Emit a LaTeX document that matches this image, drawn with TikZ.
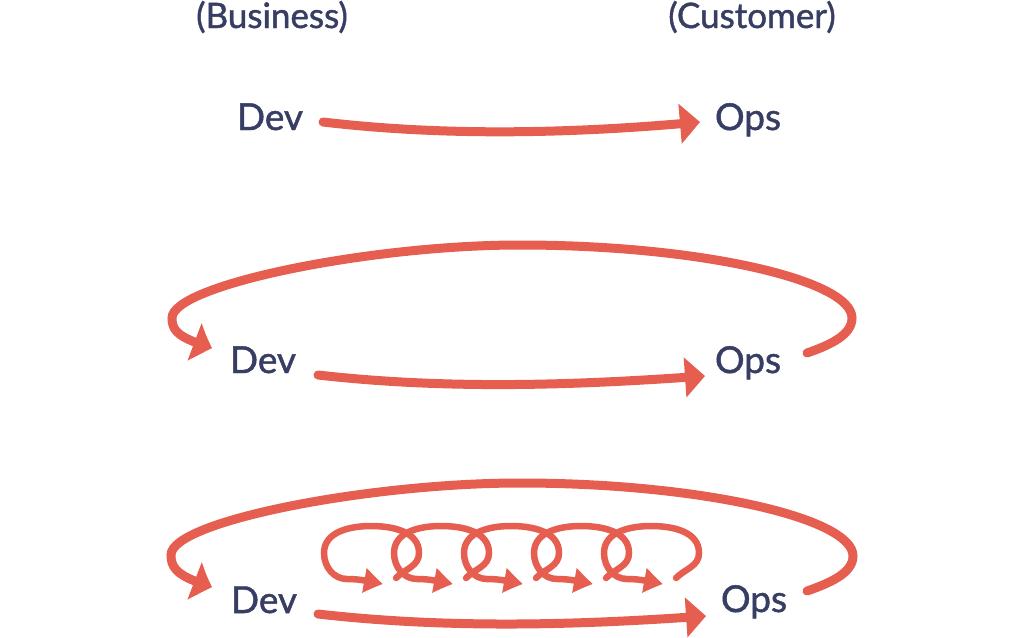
\documentclass[tikz,border=0pt]{standalone}
\usepackage{fontspec}
\newfontfamily\labelfont{Lato}[FakeBold=1.3]
\usetikzlibrary{arrows.meta,bending}
\definecolor{arrowred}{RGB}{229,94,80}
\definecolor{labelnavy}{RGB}{56,62,99}
\tikzset{
  big/.style={font=\labelfont\fontsize{37}{37}\selectfont, text=labelnavy, inner sep=0pt, anchor=base},
  head/.style={font=\labelfont\fontsize{35}{35}\selectfont, text=labelnavy, inner sep=0pt, anchor=base},
  flow/.style={draw=arrowred, line width=9pt, line cap=round, -{Triangle[length=20pt,width=39pt,bend]}},
  loopback/.style={draw=arrowred, line width=9pt, line cap=round, -{Triangle[length=19pt,width=38pt,bend]}},
  curl/.style={draw=arrowred, line width=6.5pt, line cap=round, -{Triangle[length=20pt,width=23pt,bend]}},
}
\begin{document}
\begin{tikzpicture}[x=1pt,y=1pt]
\useasboundingbox (0,0) rectangle (1024,-637);
% headings
\node[head] (bus) at (272,-28) {(Business)};
\node[head] (cus) at (752,-28) {(Customer)};
% row 1
\node[big] (dev1) at (270,-130) {Dev};
\node[big] (ops1) at (748,-130) {Ops};
\coordinate (s1) at (323,-122);
\coordinate (e1) at (700,-122);
\draw[flow] (s1) .. controls (450,-137) and (580,-133) .. (e1);
% row 2
\node[big] (dev2) at (263,-373) {Dev};
\node[big] (ops2) at (748,-373) {Ops};
\coordinate (s2) at (318,-375);
\coordinate (e2) at (705,-376);
\draw[flow] (s2) .. controls (450,-390) and (580,-385) .. (e2);
\coordinate (r2) at (807,-353);
\coordinate (t2) at (212,-348);
\draw[loopback] (r2) .. controls (830,-345) and (852,-335) .. (852,-318)
  .. controls (852,-280) and (700,-245) .. (520,-245)
  .. controls (370,-245) and (172,-285) .. (172,-318)
  .. controls (172,-332) and (180,-338) .. (t2);
% row 3
\node[big] (dev3) at (264,-613) {Dev};
\node[big] (ops3) at (754,-612) {Ops};
\coordinate (s3) at (318,-614);
\coordinate (e3) at (706,-616);
\draw[flow] (s3) .. controls (450,-629) and (580,-625) .. (e3);
\coordinate (r3) at (807,-591);
\coordinate (t3) at (212,-587);
\draw[loopback] (r3) .. controls (830,-583) and (853,-573) .. (853,-556)
  .. controls (853,-518) and (700,-483) .. (520,-483)
  .. controls (370,-483) and (171,-521) .. (171,-555)
  .. controls (171,-570) and (180,-577) .. (t3);
% curls
\foreach \t in {383,453,523,593,663}{
  \draw[curl] (\t+13,-578) to[out=45,in=-90] (\t+36,-553) to[out=90,in=0] (\t-12,-526)
    to[out=180,in=90] (\t-59,-553) to[out=-90,in=180] (\t-36,-579) to[out=0,in=170] (\t,-584);
}
\end{tikzpicture}
\end{document}
